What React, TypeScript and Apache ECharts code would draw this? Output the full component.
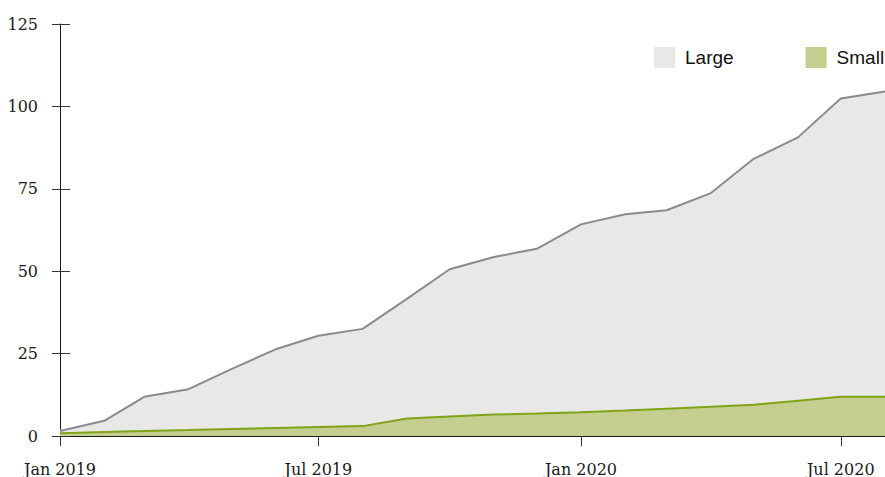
import React, { useEffect, useRef } from "react";
import * as echarts from "echarts";

const months: string[] = [
  "2019-01", "2019-02", "2019-03", "2019-04", "2019-05", "2019-06", "2019-07", "2019-08", "2019-09", "2019-10",
  "2019-11", "2019-12", "2020-01", "2020-02", "2020-03", "2020-04", "2020-05", "2020-06", "2020-07", "2020-08",
];
const largeValues: number[] = [1.5, 4.6, 11.9, 14.2, 20.3, 26.3, 30.4, 32.5, 41.6, 50.6, 54.3, 56.8, 64.2, 67.3, 68.5, 73.7, 84.1, 90.6, 102.4, 104.5];
const smallValues: number[] = [0.8, 1.2, 1.5, 1.8, 2.1, 2.4, 2.7, 3.0, 5.3, 5.9, 6.5, 6.8, 7.2, 7.7, 8.3, 8.9, 9.5, 10.7, 11.9, 11.9];
const tickMonths: string[] = ["2019-01", "2019-07", "2020-01", "2020-07"];
const monthNames: string[] = ["Jan", "Feb", "Mar", "Apr", "May", "Jun", "Jul", "Aug", "Sep", "Oct", "Nov", "Dec"];
const seriesNames: string[] = ["Large", "Small"];

const toTime = (m: string) => {
  const [y, mo] = m.split("-").map(Number);
  return Date.UTC(y, mo - 1, 1);
};

const SERIF = "DejaVu Serif";
const SANS = "Liberation Sans";

export default function App() {
  const ref = useRef<HTMLDivElement>(null);
  useEffect(() => {
    if (!ref.current) return;
    const chart = echarts.init(ref.current, undefined, { renderer: "svg" });
    const xMin = toTime(months[0]);
    const xMax = toTime(months[months.length - 1]);
    const ticks = tickMonths.map(toTime);
    const fmt = (v: number) => {
      const d = new Date(v);
      return `${monthNames[d.getUTCMonth()]} ${d.getUTCFullYear()}`;
    };
    const largeFill = "#e8e8e7";
    const smallFill = "#c4cf8f";
    chart.setOption({
      animation: false,
      grid: { left: 60, right: 0, top: 24, bottom: 41, containLabel: false },
      legend: {
        left: 654,
        top: 47,
        width: 400,
        orient: "horizontal",
        padding: 0,
        icon: "rect",
        itemWidth: 21,
        itemHeight: 21,
        itemGap: 72,
        textStyle: { fontFamily: SANS, fontSize: 19, color: "#111", padding: [0, 0, 0, 5] },
        data: [
          { name: seriesNames[0], itemStyle: { color: largeFill, borderWidth: 0 }, lineStyle: { width: 0, opacity: 0 } },
          { name: seriesNames[1], itemStyle: { color: smallFill, borderWidth: 0 }, lineStyle: { width: 0, opacity: 0 } },
        ],
      },
      xAxis: [
        {
          type: "value",
          min: xMin,
          max: xMax,
          splitLine: { show: false },
          axisLine: { show: true, onZero: false, lineStyle: { color: "#1a1a1a", width: 1 } },
          axisTick: { show: true, customValues: ticks, length: 10, lineStyle: { color: "#333" } },
          axisLabel: {
            customValues: ticks,
            formatter: fmt,
            fontFamily: SERIF,
            fontSize: 16,
            color: "#1a1a1a",
            margin: 25,
          },
        },
        {
          type: "value",
          min: xMin,
          max: xMax,
          position: "bottom",
          splitLine: { show: false },
          axisLine: { show: false, onZero: false },
          axisTick: { show: true, inside: true, customValues: ticks, length: 8, lineStyle: { color: "#333" } },
          axisLabel: { show: false },
        },
      ],
      yAxis: [
        {
          type: "value",
          min: 0,
          max: 125,
          interval: 25,
          splitLine: { show: false },
          axisLine: { show: true, onZero: false, lineStyle: { color: "#1a1a1a", width: 1 } },
          axisTick: { show: true, length: 8, lineStyle: { color: "#333" } },
          axisLabel: { fontFamily: SERIF, fontSize: 16, color: "#1a1a1a", margin: 22 },
        },
        {
          type: "value",
          min: 0,
          max: 125,
          interval: 25,
          position: "left",
          splitLine: { show: false },
          axisLine: { show: false, onZero: false },
          axisTick: { show: true, inside: true, length: 10, lineStyle: { color: "#333" } },
          axisLabel: { show: false },
        },
      ],
      series: [
        {
          name: seriesNames[0],
          type: "line",
          showSymbol: false,
          data: months.map((m, i) => [toTime(m), largeValues[i]]),
          lineStyle: { color: "#8b8a8f", width: 2 },
          itemStyle: { color: largeFill },
          areaStyle: { color: largeFill, opacity: 1 },
          z: 1,
        },
        {
          name: seriesNames[1],
          type: "line",
          showSymbol: false,
          data: months.map((m, i) => [toTime(m), smallValues[i]]),
          lineStyle: { color: "#80a31a", width: 2 },
          itemStyle: { color: smallFill },
          areaStyle: { color: smallFill, opacity: 1 },
          z: 2,
        },
      ],
    });
    return () => chart.dispose();
  }, []);
  return (
    <div
      ref={ref}
      style={{ position: "fixed", left: 0, top: 0, width: 885, height: 477, background: "#fff" }}
    />
  );
}
